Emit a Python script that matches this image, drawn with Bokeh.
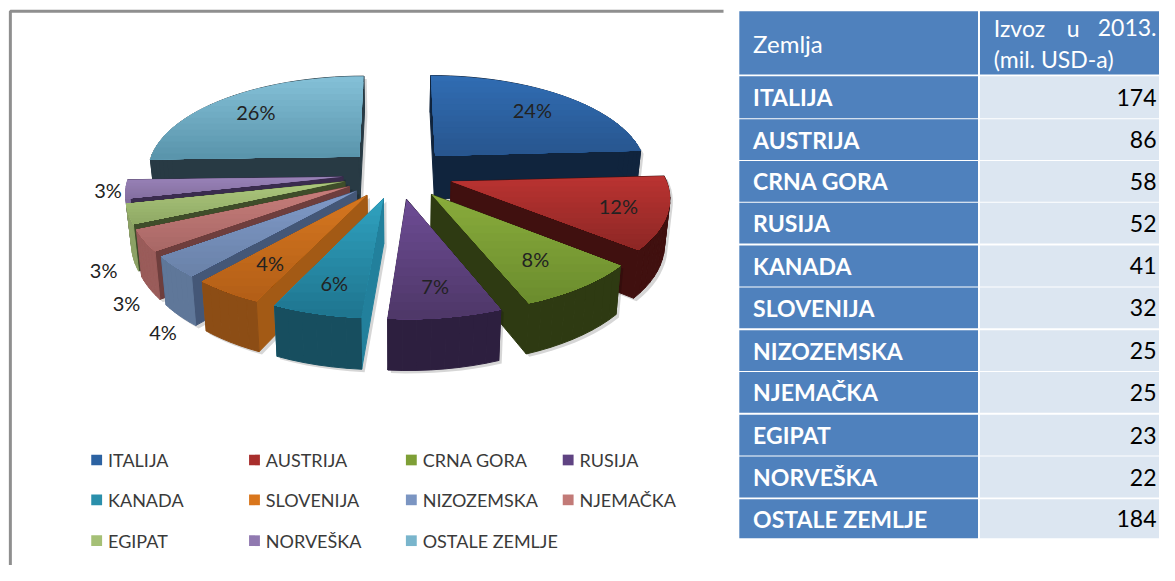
import math
from bokeh.plotting import figure
from bokeh.models import Range1d, ColumnDataSource
from bokeh.core.properties import value
from bokeh.embed import file_html
from bokeh.resources import INLINE

# ---- data
countries = ["ITALIJA", "AUSTRIJA", "CRNA GORA", "RUSIJA", "KANADA", "SLOVENIJA",
             "NIZOZEMSKA", "NJEMAČKA", "EGIPAT", "NORVEŠKA", "OSTALE ZEMLJE"]
exports = [174, 86, 58, 52, 41, 32, 25, 25, 23, 22, 184]
percent_labels = ["24%", "12%", "8%", "7%", "6%", "4%", "4%", "3%", "3%", "3%", "26%"]
table_head = ["Zemlja", "Izvoz", "u", "2013.", "(mil. USD-a)"]

# ---- styles
top_light = ["#306cb2", "#b93331", "#88ab3b", "#6c4b93", "#2fa0be", "#d4761f", "#7f99c7", "#c67d7a", "#abc67c", "#9882b7", "#83bfd6"]
top_dark = ["#28568f", "#8e2725", "#6c8d2e", "#4f3869", "#1f7690", "#b45f17", "#6a82a9", "#a96866", "#90aa65", "#8570a1", "#5a95ac"]
wall_arc = ["#10243d", "#40100f", "#2e3a12", "#2d1f3f", "#174e5f", "#8c4d15", "#5f7799", "#9a5c5a", "#8da266", "#826e9d", "#283a44"]
wall_rad = ["#10243d", "#40100f", "#2e3a12", "#2d1f3f", "#22809c", "#a35a15", "#445777", "#6e3e3d", "#3f4d2a", "#3a2c4e", "#283a44"]
legend_col = ["#2c62a2", "#a82e2c", "#7e9f36", "#5f4382", "#2a8fab", "#d9761c", "#7b95c2", "#c27a77", "#a5c076", "#9079b0", "#79b5cc"]
label_r = [0.75, 0.78, 0.72, 0.76, 0.76, 0.72, 1.06, 1.08, 1.11, 1.08, 0.76]
label_drop = [0, 0, 0, 0, 0, 0, 11, 10, 6, 0, 0]
draw_order = [10, 0, 9, 8, 7, 6, 5, 4, 1, 2, 3]

# ---- perspective model of the pie
CX, CY, AX, BY, D, EXPL = 403.0, 178.0, 216.0, 98.6, 7.3, 0.26
total = sum(exports)


def proj(X, Z):
    s = D / (D - Z)
    return CX + AX * X * s, CY + BY * Z * s


def lower(X, Z):
    x, y = proj(X, Z)
    return x + (CX - x) * 0.02, y + 44 + (Z + 0.2) * 6


def mix(c1, c2, t):
    a = [int(c1[i:i + 2], 16) for i in (1, 3, 5)]
    b = [int(c2[i:i + 2], 16) for i in (1, 3, 5)]
    return "#%02x%02x%02x" % tuple(round(p + (q - p) * t) for p, q in zip(a, b))


def clip_below(poly, y0):
    out = []
    for i, (x1, y1) in enumerate(poly):
        x2, y2 = poly[(i + 1) % len(poly)]
        if y1 >= y0:
            out.append((x1, y1))
        if (y1 >= y0) != (y2 >= y0):
            t = (y0 - y1) / (y2 - y1)
            out.append((x1 + (x2 - x1) * t, y0))
    return out


def hull(points):
    pts = sorted(set(points))

    def half(seq):
        h = []
        for q in seq:
            while len(h) >= 2 and (h[-1][0] - h[-2][0]) * (q[1] - h[-2][1]) - (h[-1][1] - h[-2][1]) * (q[0] - h[-2][0]) <= 0:
                h.pop()
            h.append(q)
        return h[:-1]
    return half(pts) + half(pts[::-1])


angles = []
cum = 0
for v in exports:
    angles.append((cum / total * 2 * math.pi, (cum + v) / total * 2 * math.pi))
    cum += v

pxs, pys, pcs, pw, pa = [], [], [], [], []


def add(poly, col, lw=0.0, alpha=1.0):
    pxs.append([q[0] for q in poly])
    pys.append([q[1] for q in poly])
    pcs.append(col)
    pw.append(lw)
    pa.append(alpha)


for i in draw_order:
    a0, a1 = angles[i]
    m = (a0 + a1) / 2
    Cx, Cz = EXPL * math.sin(m), -EXPL * math.cos(m)
    n = max(6, int((a1 - a0) / math.radians(3)))
    arc = [(Cx + math.sin(a0 + (a1 - a0) * k / n), Cz - math.cos(a0 + (a1 - a0) * k / n)) for k in range(n + 1)]
    outline = [proj(Cx, Cz), lower(Cx, Cz)] + [proj(*P) for P in arc] + [lower(*P) for P in arc]
    add([(x + 3, y + 3) for x, y in hull(outline)], "#000000", 0.0, 0.16)
    walls = []
    for P, Q in zip(arc[:-1], arc[1:]):
        walls.append(((P[1] + Q[1]) / 2, [proj(*P), proj(*Q), lower(*Q), lower(*P)], wall_arc[i]))
    for P in (arc[0], arc[-1]):
        walls.append(((P[1] + Cz) / 2 - 0.3, [proj(Cx, Cz), proj(*P), lower(*P), lower(Cx, Cz)], wall_rad[i]))
    for _, poly, col in sorted(walls, key=lambda w: w[0]):
        add(poly, col, 1.0)
    top = [proj(Cx, Cz)] + [proj(*P) for P in arc]
    ymin, ymax = min(q[1] for q in top), max(q[1] for q in top)
    bands = 14
    for k in range(bands):
        y0 = ymin + (ymax - ymin) * k / bands
        poly = top if k == 0 else clip_below(top, y0)
        if len(poly) >= 3:
            add(poly, mix(top_light[i], top_dark[i], k / (bands - 1)))

p = figure(width=1159, height=565, x_range=Range1d(0, 1175), y_range=Range1d(581, 0),
           output_backend="svg", toolbar_location=None, min_border=0, outline_line_color=None,
           background_fill_color="white", border_fill_color="white")
p.axis.visible = False
p.grid.visible = False

# chart frame
p.line([10, 10, 733], [581, 11, 11], line_color="#8f8f8f", line_width=3)

src = ColumnDataSource(dict(xs=pxs, ys=pys, c=pcs, w=pw, a=pa))
p.patches("xs", "ys", source=src, fill_color="c", fill_alpha="a", line_color="c", line_alpha="a", line_width="w")

# percentage labels
lx, ly = [], []
for i, v in enumerate(exports):
    a0, a1 = angles[i]
    m = (a0 + a1) / 2
    r = label_r[i]
    X = EXPL * math.sin(m) + r * math.sin(m)
    Z = -EXPL * math.cos(m) - r * math.cos(m)
    x, y = proj(X, Z)
    if label_drop[i]:
        y = lower(X, Z)[1] + label_drop[i]
    lx.append(x)
    ly.append(y)
p.text(lx, ly, text=percent_labels, text_align="center", text_baseline="middle", text_font=value("Lato"),
       text_font_size="20px", text_color="#222222")

# legend
leg_x = [92, 252, 411, 570]
leg_y = [473, 514, 556]
for i, name in enumerate(countries):
    c, rw = i % 4, i // 4
    p.quad(left=leg_x[c], right=leg_x[c] + 11, top=leg_y[rw] - 6, bottom=leg_y[rw] + 5,
           fill_color=legend_col[i], line_color=None)
    p.text([leg_x[c] + 17], [leg_y[rw]], text=[name], text_align="left", text_baseline="middle",
           text_font=value("Lato"), text_font_size="18px", text_color="#3a3a3a")

# table
T_L, T_M, T_R = 749, 992, 1175
row_top = [11, 78, 122, 165, 208, 252, 295, 339, 382, 426, 469, 513]
row_bot = [76, 121, 164, 207, 250, 294, 337, 381, 424, 468, 511, 553]
p.quad(left=T_L, right=T_M - 1, top=row_top, bottom=row_bot, fill_color="#4f81bd", line_color=None)
p.quad(left=T_M + 1, right=T_R, top=row_top[1:], bottom=row_bot[1:], fill_color="#dce6f1", line_color=None)
p.quad(left=[T_M + 1], right=[T_R], top=[row_top[0]], bottom=[row_bot[0]], fill_color="#4f81bd", line_color=None)
ys = [(a + b) / 2 for a, b in zip(row_top[1:], row_bot[1:])]
p.text([763] * len(countries), ys, text=countries, text_align="left", text_baseline="middle",
       text_font=value("Lato"), text_font_style="bold", text_font_size="23px", text_color="white")
p.text([1172] * len(exports), ys, text=[str(v) for v in exports], text_align="right", text_baseline="middle",
       text_font=value("Lato"), text_font_size="23px", text_color="black")
p.text([763], [44], text=[table_head[0]], text_baseline="middle", text_font=value("Lato"),
       text_font_size="24px", text_color="white")
p.text([1007, 1081], [28, 28], text=table_head[1:3], text_baseline="middle", text_font=value("Lato"),
       text_font_size="23px", text_color="white")
p.text([1172], [28], text=[table_head[3]], text_align="right", text_baseline="middle", text_font=value("Lato"),
       text_font_size="23px", text_color="white")
p.text([1007], [60], text=[table_head[4]], text_baseline="middle", text_font=value("Lato"),
       text_font_size="23px", text_color="white")

open("out.html", "w").write(file_html(p, INLINE))
